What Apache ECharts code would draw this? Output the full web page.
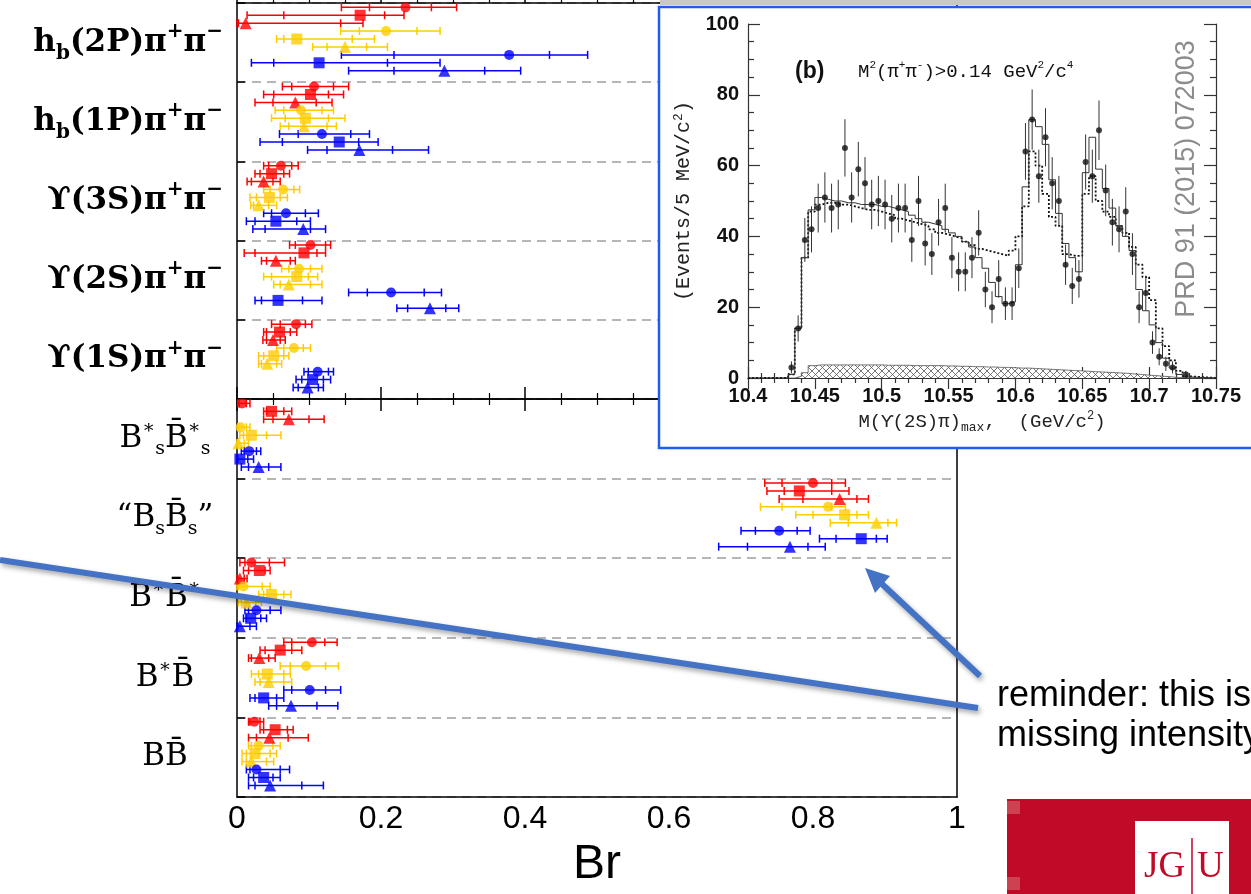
<!DOCTYPE html>
<html>
<head>
<meta charset="utf-8">
<script src="https://cdn.jsdelivr.net/npm/echarts@6/dist/echarts.min.js"></script>
<style>
html, body { margin: 0; padding: 0; background: #fff; }
#chart { width: 1251px; height: 894px; }
</style>
</head>
<body>
<div id="chart"></div>
<script>
// main panel: each row is [Br, outer low, outer high, inner low, inner high]
// row order inside a group: red circle, red square, red triangle,
// yellow circle, yellow square, yellow triangle, blue circle, blue square, blue triangle
const hb2P = [
  [0.234, 0.145, 0.305, 0.184, 0.270], [0.171, 0.014, 0.232, 0.065, 0.205], [0.012, 0.000, 0.175, 0.002, 0.144],
  [0.207, 0.144, 0.282, 0.170, 0.250], [0.083, 0.055, 0.191, 0.065, 0.160], [0.150, 0.105, 0.209, 0.125, 0.180],
  [0.378, 0.145, 0.487, 0.218, 0.434], [0.114, 0.020, 0.282, 0.051, 0.209], [0.288, 0.155, 0.394, 0.218, 0.344]
];
const hb1P = [
  [0.107, 0.063, 0.155, 0.076, 0.134], [0.102, 0.037, 0.148, 0.051, 0.127], [0.081, 0.025, 0.132, 0.050, 0.110],
  [0.089, 0.053, 0.134, 0.065, 0.118], [0.095, 0.048, 0.150, 0.067, 0.127], [0.093, 0.060, 0.138, 0.072, 0.125],
  [0.118, 0.059, 0.184, 0.085, 0.158], [0.142, 0.032, 0.196, 0.063, 0.169], [0.170, 0.098, 0.266, 0.125, 0.216]
];
const ups3S = [
  [0.061, 0.037, 0.085, 0.044, 0.076], [0.048, 0.025, 0.073, 0.032, 0.065], [0.037, 0.014, 0.060, 0.020, 0.050],
  [0.064, 0.037, 0.087, 0.046, 0.079], [0.045, 0.018, 0.070, 0.027, 0.060], [0.030, 0.019, 0.055, 0.023, 0.044],
  [0.068, 0.037, 0.113, 0.048, 0.095], [0.054, 0.013, 0.102, 0.025, 0.083], [0.092, 0.022, 0.123, 0.039, 0.102]
];
const ups2S = [
  [0.102, 0.073, 0.130, 0.081, 0.123], [0.093, 0.010, 0.123, 0.025, 0.111], [0.054, 0.034, 0.081, 0.041, 0.074],
  [0.086, 0.062, 0.118, 0.072, 0.102], [0.083, 0.037, 0.112, 0.048, 0.099], [0.072, 0.051, 0.118, 0.060, 0.102],
  [0.214, 0.155, 0.284, 0.181, 0.260], [0.057, 0.025, 0.118, 0.034, 0.091], [0.268, 0.222, 0.308, 0.237, 0.290]
];
const ups1S = [
  [0.082, 0.048, 0.104, 0.060, 0.095], [0.059, 0.037, 0.083, 0.041, 0.074], [0.050, 0.036, 0.067, 0.041, 0.060],
  [0.079, 0.055, 0.102, 0.065, 0.092], [0.051, 0.030, 0.072, 0.037, 0.065], [0.042, 0.030, 0.062, 0.034, 0.055],
  [0.112, 0.093, 0.134, 0.099, 0.127], [0.105, 0.082, 0.130, 0.090, 0.120], [0.098, 0.078, 0.120, 0.085, 0.113]
];
const bsStarBsStar = [
  [0.007, 0.001, 0.018, 0.003, 0.013], [0.048, 0.037, 0.076, 0.041, 0.065], [0.072, 0.037, 0.121, 0.050, 0.100],
  [0.005, 0.001, 0.018, 0.002, 0.013], [0.020, 0.004, 0.061, 0.009, 0.041], [0.002, 0.000, 0.016, 0.001, 0.010],
  [0.017, 0.006, 0.033, 0.010, 0.027], [0.004, 0.000, 0.023, 0.001, 0.015], [0.030, 0.006, 0.061, 0.016, 0.044]
];
const bsBs = [
  [0.800, 0.733, 0.845, 0.757, 0.826], [0.781, 0.736, 0.850, 0.760, 0.826], [0.837, 0.753, 0.877, 0.786, 0.861],
  [0.821, 0.727, 0.845, 0.757, 0.826], [0.844, 0.776, 0.877, 0.800, 0.861], [0.888, 0.824, 0.916, 0.849, 0.904],
  [0.753, 0.700, 0.796, 0.720, 0.778], [0.867, 0.809, 0.903, 0.832, 0.888], [0.768, 0.669, 0.817, 0.709, 0.793]
];
const bStarBStar = [
  [0.020, 0.004, 0.066, 0.011, 0.045], [0.031, 0.009, 0.046, 0.016, 0.039], [0.004, 0.000, 0.014, 0.001, 0.010],
  [0.009, 0.000, 0.046, 0.002, 0.035], [0.048, 0.030, 0.075, 0.037, 0.065], [0.013, 0.002, 0.034, 0.006, 0.026],
  [0.027, 0.011, 0.061, 0.016, 0.046], [0.019, 0.009, 0.041, 0.013, 0.033], [0.004, 0.000, 0.027, 0.001, 0.018]
];
const bStarB = [
  [0.104, 0.065, 0.139, 0.076, 0.122], [0.060, 0.032, 0.090, 0.039, 0.076], [0.031, 0.016, 0.053, 0.020, 0.044],
  [0.096, 0.060, 0.141, 0.074, 0.123], [0.042, 0.020, 0.074, 0.030, 0.065], [0.044, 0.025, 0.076, 0.032, 0.065],
  [0.101, 0.065, 0.144, 0.076, 0.123], [0.037, 0.018, 0.065, 0.025, 0.055], [0.075, 0.044, 0.140, 0.055, 0.111]
];
const bB = [
  [0.024, 0.016, 0.037, 0.018, 0.032], [0.053, 0.032, 0.078, 0.037, 0.070], [0.045, 0.016, 0.099, 0.027, 0.071],
  [0.030, 0.016, 0.060, 0.020, 0.050], [0.025, 0.007, 0.055, 0.013, 0.046], [0.020, 0.007, 0.051, 0.013, 0.041],
  [0.027, 0.013, 0.073, 0.018, 0.060], [0.037, 0.016, 0.060, 0.023, 0.050], [0.046, 0.016, 0.120, 0.025, 0.090]
];

const topNames = [
  '{m|h}{sb|b}{m|(2P)π}{sp|+}{m|π}{sp|−}',
  '{m|h}{sb|b}{m|(1P)π}{sp|+}{m|π}{sp|−}',
  '{m|ϒ(3S)π}{sp|+}{m|π}{sp|−}',
  '{m|ϒ(2S)π}{sp|+}{m|π}{sp|−}',
  '{m|ϒ(1S)π}{sp|+}{m|π}{sp|−}'
];
const bottomNames = [
  '{n|B}{np|∗}{nb|s}{n|B\u0304}{np|∗}{nb|s}',
  '{n|“B}{nb|s}{n|B\u0304}{nb|s}{n|”}',
  '{n|B}{np|∗}{n|B\u0304}{np|∗}',
  '{n|B}{np|∗}{n|B\u0304}',
  '{n|BB\u0304}'
];

const rowColors = ['#ff0000', '#ff0000', '#ff0000', '#ffcc00', '#ffcc00', '#ffcc00', '#0000ff', '#0000ff', '#0000ff'];
const rowSymbols = ['circle', 'rect', 'triangle', 'circle', 'rect', 'triangle', 'circle', 'rect', 'triangle'];
const rowSizes = [10, 11, 12, 10, 11, 12, 10, 11, 12];

// inset: M(Y(2S)pi)max histogram, 5 MeV bins starting at 10.430 GeV
const binStart = 10.43;
const binWidth = 0.005;
const counts = [3, 14, 39, 42, 48, 51, 48, 49, 65, 51, 59, 55, 49, 50, 49, 45, 48, 48, 39, 50,
  38, 35, 44, 48, 34, 30, 30, 34, 41, 25, 20, 28, 21, 21, 31, 64, 73, 57, 68, 55,
  50, 32, 26, 28, 61, 57, 70, 53, 44, 42, 47, 35, 20, 24, 10, 6, 4, 3, null, 1];
const countErr = [1.7, 3.7, 6.2, 6.5, 6.9, 7.1, 6.9, 7.0, 8.1, 7.1, 7.7, 7.4, 7.0, 7.1, 7.0, 6.7, 6.9, 6.9, 6.2, 7.1,
  6.2, 5.9, 6.6, 6.9, 5.8, 5.5, 5.5, 5.8, 6.4, 5.0, 4.5, 5.3, 4.6, 4.6, 5.6, 8.0, 8.5, 7.5, 8.2, 7.4,
  7.1, 5.7, 5.1, 5.3, 7.8, 7.5, 8.4, 7.3, 6.6, 6.5, 6.9, 5.9, 4.5, 4.9, 3.2, 2.4, 2.0, 1.7, null, 1.0];
const fitTotal = [1, 14, 34, 47.5, 51, 50.5, 50, 50, 49.5, 49.5, 49, 49, 49, 48.5, 48.5, 48, 47.5, 47, 46, 45,
  44, 43.5, 43, 42, 41, 40, 38.5, 37, 34, 31, 27, 23, 21, 21.5, 32, 54, 73, 71, 66, 56,
  46.5, 38, 34, 30, 58, 68, 59, 53.5, 48, 43, 40, 36, 25, 19, 15, 10, 5.6, 2.8, 1, 0.3];
const fitNoSignal = [1, 14, 34, 47, 49, 49.5, 49.5, 49, 49, 48.5, 48, 47.5, 47.5, 47, 46.5, 46, 45, 44.5, 44, 43.5,
  43, 42, 41, 40.5, 40, 39.5, 38.5, 37.5, 36.5, 36, 35.5, 35, 34.5, 36, 40, 48.5, 64, 60, 52, 45.5,
  43, 35, 34.5, 34.5, 52, 57, 50, 47, 45.5, 43, 41, 37, 32, 28.5, 22, 14, 9, 5, 2, 0.5];
const background = [0, 0.5, 1.5, 3.5, 3.7, 3.7, 3.7, 3.7, 3.7, 3.7, 3.7, 3.7, 3.7, 3.7, 3.6, 3.6, 3.6, 3.6, 3.5, 3.5,
  3.5, 3.5, 3.5, 3.4, 3.4, 3.3, 3.3, 3.2, 3.2, 3.1, 3.1, 3.0, 3.0, 2.9, 2.8, 2.8, 2.7, 2.6, 2.5, 2.4,
  2.3, 2.2, 2.1, 2.0, 1.9, 1.8, 1.7, 1.6, 1.5, 1.4, 1.3, 1.1, 1.0, 0.8, 0.7, 0.5, 0.4, 0.2, 0.1, 0];

// ---------- build series data ----------
const rowOffset = 0.055, rowStep = 0.1;
function buildRows(groups) {
  const bars = [], points = [];
  groups.forEach((rows, g) => {
    rows.forEach((r, k) => {
      const y = g + rowOffset + rowStep * k;
      bars.push([r[0], r[1], r[2], r[3], r[4], y, k]);
      points.push({ value: [r[0], y], symbol: rowSymbols[k], symbolSize: rowSizes[k], itemStyle: { color: rowColors[k] } });
    });
  });
  return { bars, points };
}
const topRows = buildRows([hb2P, hb1P, ups3S, ups2S, ups1S]);
const bottomRows = buildRows([bsStarBsStar, bsBs, bStarBStar, bStarB, bB]);

function edge(i) { return +(binStart + binWidth * i).toFixed(4); }
function stepLine(vals) {
  const d = [[10.4, 0]];
  vals.forEach((v, i) => d.push([edge(i), v]));
  d.push([edge(vals.length), 0]);
  d.push([10.75, 0]);
  return d;
}
const pointData = [], errData = [];
counts.forEach((c, i) => {
  if (c == null) return;
  const x = +(edge(i) + binWidth / 2).toFixed(4);
  pointData.push([x, c]);
  errData.push([x, c, countErr[i]]);
});

const hatch = document.createElement('canvas');
hatch.width = 7; hatch.height = 7;
const hc = hatch.getContext('2d');
hc.fillStyle = '#fff'; hc.fillRect(0, 0, 7, 7);
hc.strokeStyle = '#555'; hc.lineWidth = 0.8;
hc.beginPath(); hc.moveTo(0, 0); hc.lineTo(7, 7); hc.moveTo(7, 0); hc.lineTo(0, 7); hc.stroke();

function renderErrorBar(params, api) {
  const y = api.value(5);
  const pts = [1, 2, 3, 4].map(d => api.coord([api.value(d), y]));
  const style = { stroke: rowColors[api.value(6)], lineWidth: 1.5 };
  const children = [{ type: 'line', shape: { x1: pts[0][0], y1: pts[0][1], x2: pts[1][0], y2: pts[1][1] }, style }];
  pts.forEach(p => children.push({ type: 'line', shape: { x1: p[0], y1: p[1] - 4, x2: p[0], y2: p[1] + 4 }, style }));
  return { type: 'group', children };
}
function renderCountErr(params, api) {
  const lo = api.coord([api.value(0), api.value(1) - api.value(2)]);
  const hi = api.coord([api.value(0), api.value(1) + api.value(2)]);
  return { type: 'line', shape: { x1: lo[0], y1: lo[1], x2: hi[0], y2: hi[1] }, style: { stroke: '#333', lineWidth: 1 } };
}

const black = '#000';
const serif = 'DejaVu Serif';
const mono = 'Liberation Mono';
const sans = 'Liberation Sans';

function mainX(grid, pos, labels, ticks) {
  return {
    gridIndex: grid, type: 'value', position: pos, min: 0, max: 1, interval: 0.2, z: 1,
    axisLine: { lineStyle: { color: black, width: 1.5 } },
    axisTick: { show: ticks, inside: true, length: 12, lineStyle: { color: black, width: 1.5 } },
    minorTick: { show: ticks, splitNumber: 4, length: 6, lineStyle: { color: black, width: 1.2 } },
    axisLabel: { show: labels, fontFamily: sans, fontSize: 32, color: black, margin: 6 },
    splitLine: { show: false }
  };
}
function mainY(grid) {
  return {
    gridIndex: grid, type: 'value', position: 'left', min: 0, max: 5, interval: 1, inverse: true,
    axisLine: { lineStyle: { color: black, width: 1.5 } },
    axisTick: { inside: true, length: 8, lineStyle: { color: black, width: 1.5 } },
    axisLabel: { show: false },
    splitLine: { show: true, lineStyle: { color: '#9e9e9e', width: 1.5, type: [9, 6] } }
  };
}
function rightY(grid) {
  return {
    gridIndex: grid, type: 'value', position: 'right', min: 0, max: 5,
    axisLine: { show: true, lineStyle: { color: black, width: 1.5 } },
    axisTick: { show: false }, axisLabel: { show: false }, splitLine: { show: false }
  };
}
const topRich = {
  m: { fontFamily: serif, fontWeight: 'bold', fontSize: 31, lineHeight: 42, verticalAlign: 'middle', color: black },
  sp: { fontFamily: serif, fontWeight: 'bold', fontSize: 20, lineHeight: 20, verticalAlign: 'top', color: black },
  sb: { fontFamily: serif, fontWeight: 'bold', fontSize: 20, lineHeight: 20, verticalAlign: 'bottom', color: black }
};
const bottomRich = {
  n: { fontFamily: serif, fontSize: 31, lineHeight: 40, verticalAlign: 'middle', color: black },
  np: { fontFamily: serif, fontSize: 19, lineHeight: 19, verticalAlign: 'top', color: black },
  nb: { fontFamily: serif, fontSize: 19, lineHeight: 19, verticalAlign: 'bottom', color: black }
};
const insetTick = { color: '#333', width: 1.2 };
const insetLabel = { fontFamily: sans, fontWeight: 'bold', fontSize: 20, color: '#111' };

const option = {
  animation: false,
  backgroundColor: '#fff',
  grid: [
    { left: 237, right: 294, top: 3, height: 396, outerBoundsMode: 'none' },
    { left: 237, right: 294, top: 399, height: 398, outerBoundsMode: 'none' },
    { left: 748, right: 35, top: 24, height: 354, outerBoundsMode: 'none' }
  ],
  xAxis: [
    mainX(0, 'bottom', false, true),
    mainX(0, 'top', false, true),
    Object.assign(mainX(1, 'bottom', true, true), {
      name: 'Br', nameLocation: 'middle', nameGap: 44,
      nameTextStyle: { fontFamily: sans, fontSize: 48, color: black }
    }),
    mainX(1, 'top', false, false),
    {
      gridIndex: 2, type: 'value', min: 10.4, max: 10.75, interval: 0.05, z: 6,
      axisLine: { lineStyle: insetTick },
      axisTick: { inside: true, length: 11, lineStyle: insetTick },
      minorTick: { show: true, splitNumber: 5, length: 5, lineStyle: insetTick },
      axisLabel: Object.assign({ margin: 8, formatter: v => String(+v.toFixed(2)) }, insetLabel),
      splitLine: { show: false },
      name: '{a|M(ϒ(2S)π)}{b|max}{a|,  (GeV/c}{s|2}{a|)}', nameLocation: 'middle', nameGap: 32,
      nameTextStyle: {
        rich: {
          a: { fontFamily: mono, fontSize: 19, color: '#222', lineHeight: 24, verticalAlign: 'middle' },
          b: { fontFamily: mono, fontSize: 13, color: '#222', lineHeight: 13, verticalAlign: 'bottom' },
          s: { fontFamily: mono, fontSize: 12, color: '#222', lineHeight: 12, verticalAlign: 'top' }
        }
      }
    },
    {
      gridIndex: 2, type: 'value', position: 'top', min: 10.4, max: 10.75, interval: 0.05, z: 6,
      axisLine: { lineStyle: insetTick },
      axisTick: { inside: true, length: 11, lineStyle: insetTick },
      minorTick: { show: true, splitNumber: 5, length: 5, lineStyle: insetTick },
      axisLabel: { show: false }, splitLine: { show: false }
    }
  ],
  yAxis: [
    mainY(0),
    {
      gridIndex: 0, type: 'category', position: 'left', data: topNames, inverse: true,
      axisLine: { show: false }, axisTick: { show: false },
      axisLabel: { margin: 14, rich: topRich }
    },
    rightY(0),
    mainY(1),
    {
      gridIndex: 1, type: 'category', position: 'left', data: bottomNames, inverse: true,
      axisLine: { show: false }, axisTick: { show: false },
      axisLabel: { margin: 72, align: 'center', rich: bottomRich }
    },
    rightY(1),
    {
      gridIndex: 2, type: 'value', position: 'left', min: 0, max: 100, interval: 20, z: 6,
      axisLine: { show: true, lineStyle: insetTick },
      axisTick: { inside: true, length: 12, lineStyle: insetTick },
      minorTick: { show: true, splitNumber: 4, length: 6, lineStyle: insetTick },
      axisLabel: Object.assign({ margin: 9 }, insetLabel),
      splitLine: { show: false },
      name: '{a|(Events/5 MeV/c}{s|2}{a|)}', nameLocation: 'middle', nameGap: 52, nameRotate: 90,
      nameTextStyle: {
        rich: {
          a: { fontFamily: mono, fontSize: 20, color: '#222', lineHeight: 24, verticalAlign: 'middle' },
          s: { fontFamily: mono, fontSize: 13, color: '#222', lineHeight: 13, verticalAlign: 'top' }
        }
      }
    },
    {
      gridIndex: 2, type: 'value', position: 'right', min: 0, max: 100, interval: 20, z: 6,
      axisLine: { show: true, lineStyle: insetTick },
      axisTick: { inside: true, length: 12, lineStyle: insetTick },
      minorTick: { show: true, splitNumber: 4, length: 6, lineStyle: insetTick },
      axisLabel: { show: false }, splitLine: { show: false }
    }
  ],
  series: [
    { type: 'custom', xAxisIndex: 0, yAxisIndex: 0, data: topRows.bars, renderItem: renderErrorBar, encode: { x: [0, 1, 2], y: 5 }, z: 2 },
    { type: 'scatter', xAxisIndex: 0, yAxisIndex: 0, data: topRows.points, z: 2 },
    { type: 'custom', xAxisIndex: 2, yAxisIndex: 3, data: bottomRows.bars, renderItem: renderErrorBar, encode: { x: [0, 1, 2], y: 5 }, z: 2 },
    { type: 'scatter', xAxisIndex: 2, yAxisIndex: 3, data: bottomRows.points, z: 2 },
    {
      type: 'line', xAxisIndex: 4, yAxisIndex: 6, data: stepLine(background), step: 'end', symbol: 'none', z: 7,
      lineStyle: { color: '#555', width: 0.8 }, areaStyle: { color: { image: hatch, repeat: 'repeat' }, opacity: 1 }
    },
    {
      type: 'line', xAxisIndex: 4, yAxisIndex: 6, data: stepLine(fitNoSignal), step: 'end', symbol: 'none', z: 7,
      lineStyle: { color: '#111', width: 1.8, type: [2, 2] }
    },
    {
      type: 'line', xAxisIndex: 4, yAxisIndex: 6, data: stepLine(fitTotal), step: 'end', symbol: 'none', z: 7,
      lineStyle: { color: '#333', width: 1 }
    },
    { type: 'custom', xAxisIndex: 4, yAxisIndex: 6, data: errData, renderItem: renderCountErr, encode: { x: 0, y: 1 }, z: 8 },
    { type: 'scatter', xAxisIndex: 4, yAxisIndex: 6, data: pointData, symbol: 'circle', symbolSize: 6, itemStyle: { color: '#111' }, z: 8 }
  ],
  graphic: [
    { type: 'rect', z: 5, shape: { x: 660, y: 0, width: 600, height: 5 }, style: { fill: '#c8c8c8' } },
    { type: 'rect', z: 5, shape: { x: 659, y: 7, width: 640, height: 441 }, style: { fill: '#fff', stroke: '#1f5cf2', lineWidth: 2.5 } },
    { type: 'text', z: 9, x: 795, y: 72, style: { text: '(b)', fontFamily: sans, fontWeight: 'bold', fontSize: 23, fill: '#111', verticalAlign: 'middle' } },
    {
      type: 'text', z: 9, x: 858, y: 72,
      style: {
        text: '{a|M}{s|2}{a|(π}{s|+}{a|π}{s|-}{a|)>0.14 GeV}{s|2}{a|/c}{s|4}', verticalAlign: 'middle',
        rich: {
          a: { fontFamily: mono, fontSize: 19, fill: '#111', lineHeight: 24, verticalAlign: 'middle' },
          s: { fontFamily: mono, fontSize: 11, fill: '#111', lineHeight: 11, verticalAlign: 'top' }
        }
      }
    },
    {
      type: 'text', z: 9, x: 1187, y: 179, rotation: Math.PI / 2,
      style: { text: 'PRD 91 (2015) 072003', fontFamily: sans, fontSize: 27, fill: '#8c8c8c', align: 'center', verticalAlign: 'middle' }
    },
    // annotation arrows
    {
      type: 'line', z: 20, shape: { x1: 0, y1: 560, x2: 978, y2: 708 },
      style: { stroke: '#4472c4', lineWidth: 6, shadowBlur: 5, shadowColor: 'rgba(0,0,0,0.35)', shadowOffsetX: 2, shadowOffsetY: 3 }
    },
    {
      type: 'line', z: 20, shape: { x1: 980, y1: 676, x2: 882, y2: 584 },
      style: { stroke: '#4472c4', lineWidth: 6, shadowBlur: 5, shadowColor: 'rgba(0,0,0,0.35)', shadowOffsetX: 2, shadowOffsetY: 3 }
    },
    { type: 'polygon', z: 20, shape: { points: [[865, 568], [890, 576], [875, 593]] }, style: { fill: '#4472c4' } },
    {
      type: 'text', z: 20, x: 997, y: 676,
      style: { text: 'reminder: this is a\nmissing intensity', fontFamily: sans, fontSize: 36, lineHeight: 40, fill: '#000' }
    },
    // logo
    { type: 'rect', z: 20, shape: { x: 1007, y: 799, width: 250, height: 100 }, style: { fill: '#c10a27' } },
    { type: 'rect', z: 21, shape: { x: 1007, y: 801, width: 13, height: 13 }, style: { fill: '#cc4253' } },
    { type: 'rect', z: 21, shape: { x: 1007, y: 877, width: 13, height: 13 }, style: { fill: '#cc4253' } },
    { type: 'rect', z: 21, shape: { x: 1135, y: 821, width: 94, height: 80 }, style: { fill: '#fff' } },
    { type: 'text', z: 22, x: 1144, y: 867, style: { text: 'JG', fontFamily: 'Liberation Serif', fontSize: 37, fill: '#c10a27', verticalAlign: 'middle' } },
    { type: 'line', z: 22, shape: { x1: 1192, y1: 838, x2: 1192, y2: 894 }, style: { stroke: '#c10a27', lineWidth: 1.5 } },
    { type: 'text', z: 22, x: 1197, y: 867, style: { text: 'U', fontFamily: 'Liberation Serif', fontSize: 37, fill: '#c10a27', verticalAlign: 'middle' } }
  ]
};

const chart = echarts.init(document.getElementById('chart'));
chart.setOption(option);
</script>
</body>
</html>
